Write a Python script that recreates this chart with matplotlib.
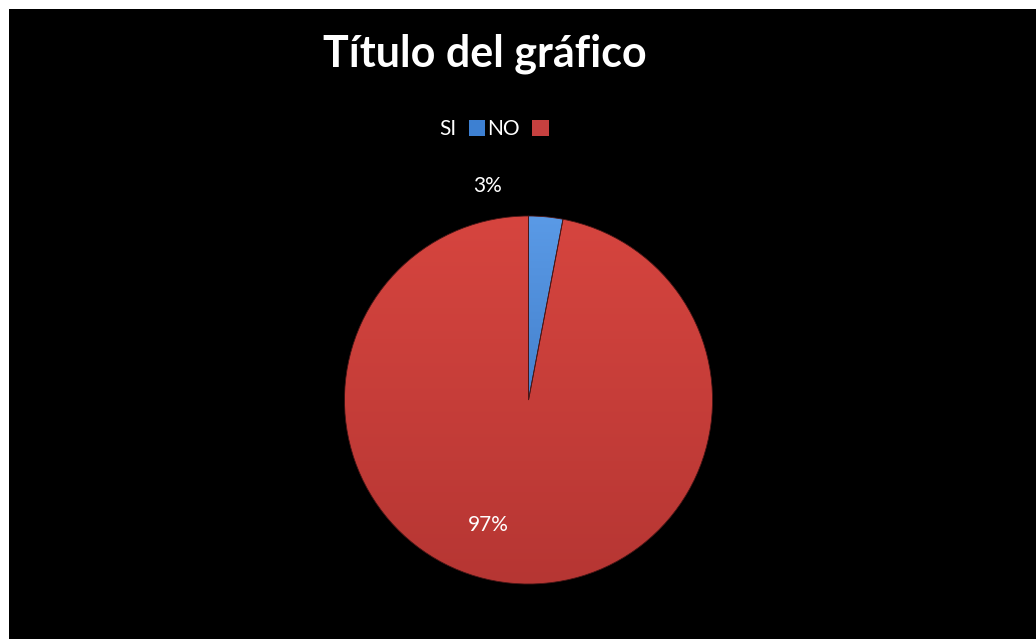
import matplotlib
matplotlib.use("Agg")
import matplotlib.pyplot as plt
import numpy as np
from matplotlib.patches import Rectangle
from matplotlib.colors import LinearSegmentedColormap

# chart data
categories = ["SI", "NO"]
values = [3, 97]
colors = ["#3d80d2", "#c6403f"]
# lighter top / darker bottom shade for each slice
shades = [("#5a9ae6", "#2f68b4"), ("#d6453f", "#b63633")]

plt.rcParams['font.family'] = ['Lato', 'DejaVu Sans']

W, H = 1036, 639
fig = plt.figure(figsize=(W / 100, H / 100), dpi=100, facecolor="white")

# black chart area inside a thin white margin
fig.patches.append(Rectangle((9 / W, 0), 1 - 9 / W, 1 - 9 / H,
                             transform=fig.transFigure, facecolor="black",
                             edgecolor="none", zorder=-5))

cx, cy, r = 528.5, 639 - 400, 184
ax = fig.add_axes([(cx - r) / W, (cy - r) / H, 2 * r / W, 2 * r / H])
ax.set_facecolor("none")
ax.set_zorder(2)

wedges, texts, autotexts = ax.pie(values, colors=colors, startangle=90,
                                  counterclock=False, radius=1,
                                  autopct="%1.0f%%", pctdistance=0.6,
                                  wedgeprops=dict(edgecolor="#4a1616", linewidth=0.6),
                                  textprops=dict(color="white", fontsize=15))
ax.set_xlim(-1, 1)
ax.set_ylim(-1, 1)
ax.set_aspect("equal")
ax.axis("off")

# vertical shading on each slice
grad = np.linspace(1, 0, 256).reshape(-1, 1)
for w, (top, bottom) in zip(wedges, shades):
    cmap = LinearSegmentedColormap.from_list("s", [bottom, top])
    im = ax.imshow(grad, cmap=cmap, extent=(-1, 1, -1, 1), origin="upper",
                   aspect="auto", zorder=w.get_zorder() + 0.1)
    im.set_clip_path(w)
for w in wedges:
    w.set_facecolor("none")
    w.set_zorder(w.get_zorder() + 0.5)

# data label placement
label_pos = [(-0.22, 1.165), (-0.22, -0.68)]
for t, p in zip(autotexts, label_pos):
    t.set_position(p)
    t.set_ha("center")
    t.set_va("center")
    t.set_clip_on(False)
    t.set_zorder(5)

fig.text(485 / W, 1 - 54 / H, "Título del gráfico", ha="center", va="center",
         fontsize=31, fontweight="bold", color="white", zorder=3)

leg = fig.legend(wedges, categories, loc="center", bbox_to_anchor=(494 / W, 1 - 129 / H),
                 ncol=2, markerfirst=False, frameon=False, fontsize=15,
                 labelcolor="white", handlelength=0.8, handleheight=0.8,
                 handletextpad=0.6, columnspacing=0.1)
for h, c in zip(leg.legend_handles, colors):
    h.set_facecolor(c)
    h.set_edgecolor("none")
leg.set_zorder(3)

fig.savefig("out.png", dpi=100, facecolor="white")
